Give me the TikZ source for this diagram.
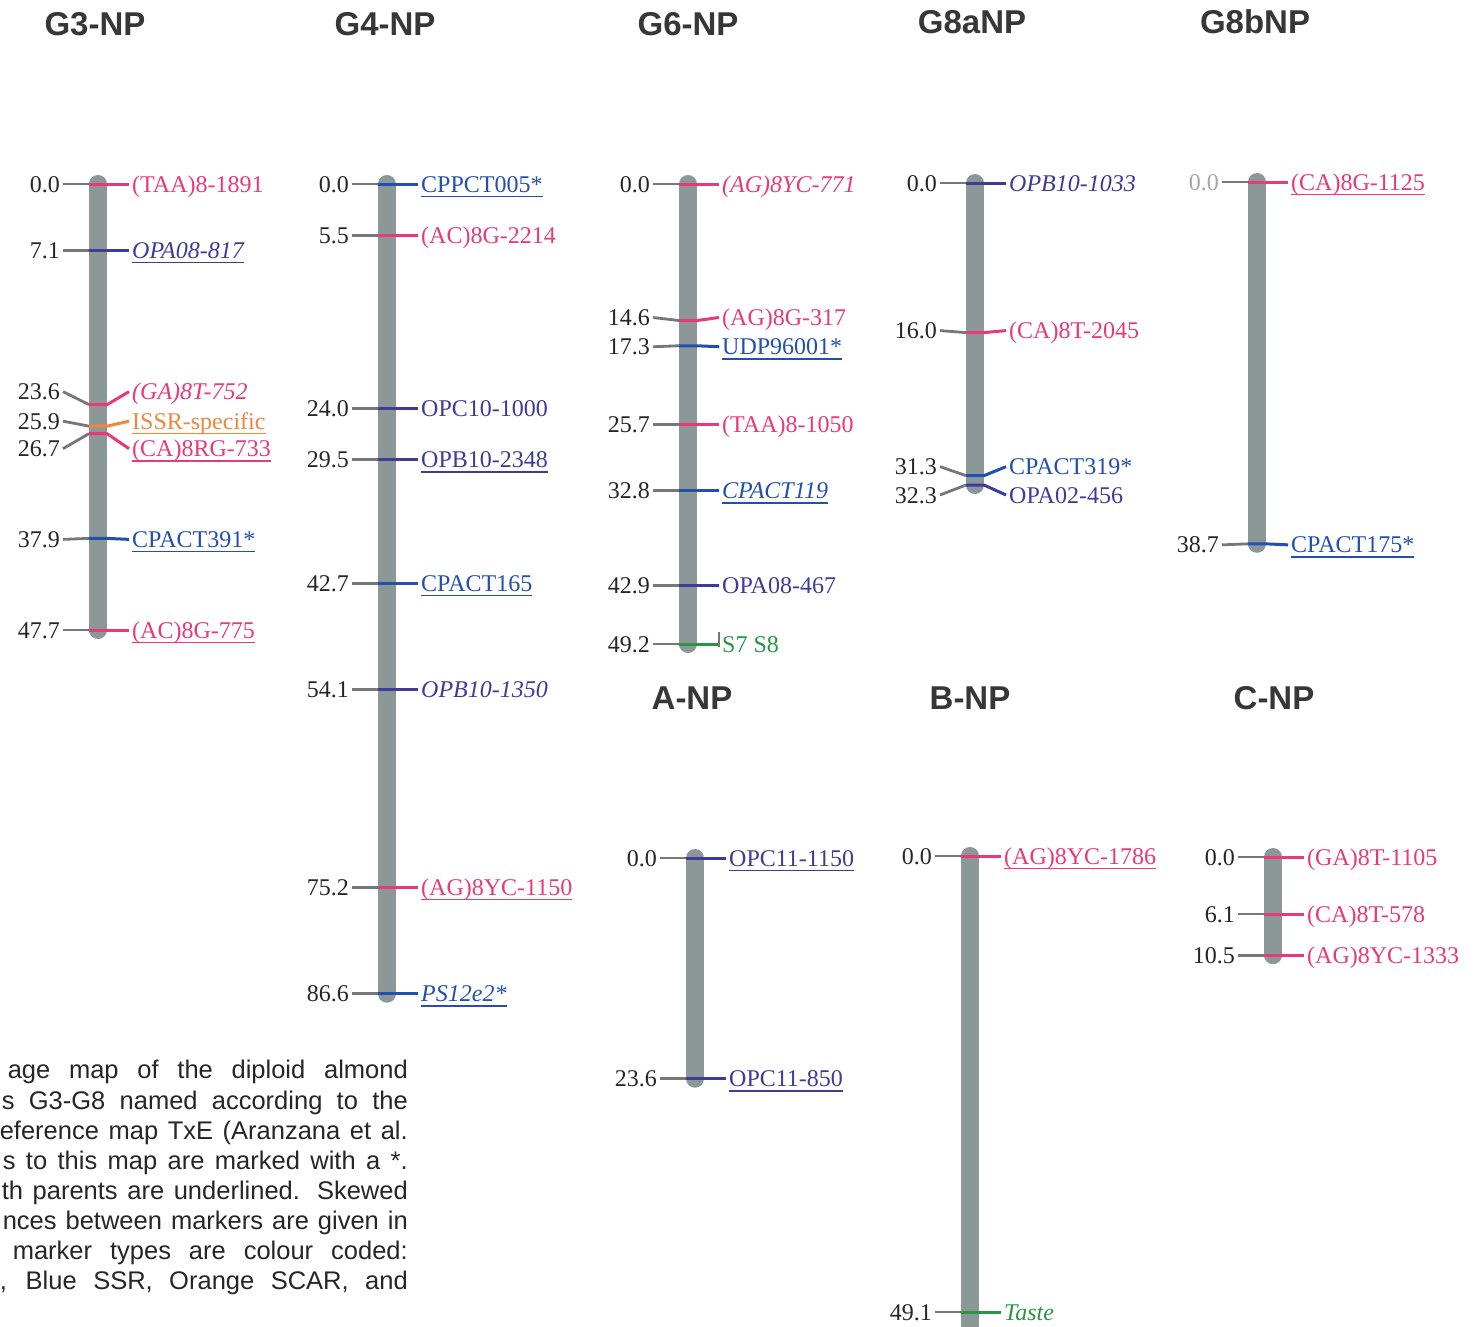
\documentclass[tikz,border=0pt]{standalone}
\usepackage{fontspec}
\setmainfont{Liberation Serif}
\newfontfamily\sansfont{Liberation Sans}
\usepackage{tikz}
\usetikzlibrary{calc}

\definecolor{barcol}{RGB}{140,152,152}
\definecolor{tickcol}{RGB}{118,120,120}
\definecolor{titlecol}{RGB}{55,55,55}
\definecolor{mpink}{RGB}{232,58,120}
\definecolor{mnavy}{RGB}{62,60,150}
\definecolor{mblue}{RGB}{35,80,175}
\definecolor{morange}{RGB}{240,135,60}
\definecolor{mgreen}{RGB}{40,150,70}

\tikzstyle{chrbar} = [draw=barcol, line width=18pt, line cap=round]
\tikzstyle{tickline} = [draw=tickcol, line width=2.8pt]
\tikzstyle{posnum} = [font=\fontsize{24}{27}\selectfont, text=black!85, text height=16pt, text depth=0pt, inner sep=3pt, anchor=east]
\tikzstyle{mname} = [font=\fontsize{24}{27}\selectfont, text height=16pt, text depth=0pt, inner sep=3pt, anchor=west]
\tikzstyle{lgtitle} = [font=\sansfont\bfseries\fontsize{33}{36}\selectfont, text=titlecol]
\tikzstyle{captxt} = [font=\sansfont\fontsize{25.5}{30}\selectfont, text=black!85, anchor=base east, inner sep=0pt]

\newsavebox\ulbox
\newcommand{\mkul}[1]{\sbox\ulbox{#1}\rlap{\rule[-5pt]{\wd\ulbox}{1.5pt}}\usebox\ulbox}

% marker: id, bar x, y of 0.0, cM, label shift, colour, number, name
\newcommand{\mapmark}[8]{%
  \pgfmathsetmacro{\mym}{#3+9.35*#4}
  \pgfmathsetmacro{\myl}{\mym+#5}
  \coordinate (a#1) at (#2-9,\mym);
  \coordinate (b#1) at (#2+9,\mym);
  \node [posnum] (n#1) at (#2-35,\myl) {#7};
  \node [mname, text=#6] (l#1) at (#2+31,\myl) {#8};
  \draw [tickline] (n#1.east) -- (a#1);
  \draw [line width=3pt, draw=#6] (a#1) -- (b#1) -- (l#1.west);
}

\begin{document}
\begin{tikzpicture}[x=1pt, y=-1pt]
    \path [use as bounding box, fill=white] (0,0) rectangle (1476,1326);

    % linkage group titles
    \node [lgtitle] (tg3) at (95,24) {G3-NP};
    \node [lgtitle] (tg4) at (385,24) {G4-NP};
    \node [lgtitle] (tg6) at (688,24) {G6-NP};
    \node [lgtitle] (tg8a) at (972,22) {G8aNP};
    \node [lgtitle] (tg8b) at (1255,22) {G8bNP};
    \node [lgtitle] (ta) at (692,698) {A-NP};
    \node [lgtitle] (tb) at (970,698) {B-NP};
    \node [lgtitle] (tc) at (1274,698) {C-NP};

    % chromosome bars
    \coordinate (g3top) at (98,184);   \coordinate (g3bot) at (98,630);
    \coordinate (g4top) at (387,184);  \coordinate (g4bot) at (387,993.7);
    \coordinate (g6top) at (688,184);  \coordinate (g6bot) at (688,644);
    \coordinate (g8atop) at (975,183); \coordinate (g8abot) at (975,485);
    \coordinate (g8btop) at (1257,182); \coordinate (g8bbot) at (1257,543.8);
    \coordinate (atop) at (695,858);   \coordinate (abot) at (695,1078.7);
    \coordinate (btop) at (970,856);   \coordinate (bbot) at (970,1312);
    \coordinate (ctop) at (1273,857);  \coordinate (cbot) at (1273,955.2);
    \draw [chrbar] (g3top) -- (g3bot);
    \draw [chrbar] (g4top) -- (g4bot);
    \draw [chrbar] (g6top) -- (g6bot);
    \draw [chrbar] (g8atop) -- (g8abot);
    \draw [chrbar] (g8btop) -- (g8bbot);
    \draw [chrbar] (atop) -- (abot);
    \draw [chrbar] (btop) -- ($(bbot)+(0,20)$);
    \draw [chrbar] (ctop) -- (cbot);

    % G3-NP
    \mapmark{g3a}{98}{184}{0}{0}{mpink}{0.0}{(TAA)8-1891}
    \mapmark{g3b}{98}{184}{7.1}{0}{mnavy}{7.1}{\mkul{\itshape OPA08-817}}
    \mapmark{g3c}{98}{184}{23.6}{-13}{mpink}{23.6}{\itshape (GA)8T-752}
    \mapmark{g3d}{98}{184}{25.9}{-5}{morange}{25.9}{\mkul{ISSR-specific}}
    \mapmark{g3e}{98}{184}{26.7}{15}{mpink}{26.7}{\mkul{(CA)8RG-733}}
    \mapmark{g3f}{98}{184}{37.9}{1}{mblue}{37.9}{\mkul{CPACT391*}}
    \mapmark{g3g}{98}{184}{47.7}{0}{mpink}{47.7}{\mkul{(AC)8G-775}}

    % G4-NP
    \mapmark{g4a}{387}{184}{0}{0}{mblue}{0.0}{\mkul{CPPCT005*}}
    \mapmark{g4b}{387}{184}{5.5}{0}{mpink}{5.5}{(AC)8G-2214}
    \mapmark{g4c}{387}{184}{24.0}{0}{mnavy}{24.0}{OPC10-1000}
    \mapmark{g4d}{387}{184}{29.5}{0}{mnavy}{29.5}{\mkul{OPB10-2348}}
    \mapmark{g4e}{387}{184}{42.7}{0}{mblue}{42.7}{\mkul{CPACT165}}
    \mapmark{g4f}{387}{184}{54.1}{0}{mnavy}{54.1}{\itshape OPB10-1350}
    \mapmark{g4g}{387}{184}{75.2}{0}{mpink}{75.2}{\mkul{(AG)8YC-1150}}
    \mapmark{g4h}{387}{184}{86.6}{0}{mblue}{86.6}{\mkul{\itshape PS12e2*}}

    % G6-NP
    \mapmark{g6a}{688}{184}{0}{0}{mpink}{0.0}{\itshape (AG)8YC-771}
    \mapmark{g6b}{688}{184}{14.6}{-3}{mpink}{14.6}{(AG)8G-317}
    \mapmark{g6c}{688}{184}{17.3}{1}{mblue}{17.3}{\mkul{UDP96001*}}
    \mapmark{g6d}{688}{184}{25.7}{0}{mpink}{25.7}{(TAA)8-1050}
    \mapmark{g6e}{688}{184}{32.8}{0}{mblue}{32.8}{\mkul{\itshape CPACT119}}
    \mapmark{g6f}{688}{184}{42.9}{0}{mnavy}{42.9}{OPA08-467}
    \mapmark{g6g}{688}{184}{49.2}{0}{mgreen}{49.2}{S7 S8}
    \draw [tickline, line width=1.5pt] ($(lg6g.west)+(0,-12)$) -- ($(lg6g.west)+(0,3)$);

    % G8aNP
    \mapmark{g8aa}{975}{183}{0}{0}{mnavy}{0.0}{\itshape OPB10-1033}
    \mapmark{g8ab}{975}{183}{16.0}{-2}{mpink}{16.0}{(CA)8T-2045}
    \mapmark{g8ac}{975}{183}{31.3}{-9}{mblue}{31.3}{CPACT319*}
    \mapmark{g8ad}{975}{183}{32.3}{10}{mnavy}{32.3}{OPA02-456}

    % G8bNP
    \mapmark{g8ba}{1257}{182}{0}{0}{mpink}{{\color{black!35}0.0}}{\mkul{(CA)8G-1125}}
    \mapmark{g8bb}{1257}{182}{38.7}{1}{mblue}{38.7}{\mkul{CPACT175*}}

    % A-NP, B-NP, C-NP
    \mapmark{aa}{695}{858}{0}{0}{mnavy}{0.0}{\mkul{OPC11-1150}}
    \mapmark{ab}{695}{858}{23.6}{0}{mnavy}{23.6}{\mkul{OPC11-850}}
    \mapmark{ba}{970}{856}{0}{0}{mpink}{0.0}{\mkul{(AG)8YC-1786}}
    \mapmark{bb}{970}{856}{48.77}{0}{mgreen}{49.1}{\itshape Taste}
    \mapmark{ca}{1273}{857}{0}{0}{mpink}{0.0}{(GA)8T-1105}
    \mapmark{cb}{1273}{857}{6.1}{0}{mpink}{6.1}{(CA)8T-578}
    \mapmark{cc}{1273}{857}{10.5}{0}{mpink}{10.5}{(AG)8YC-1333}

    % caption, cut at the left edge
    \node [captxt] (cap1) at (408,1078) {\makebox[400pt][s]{age map of the diploid almond}};
    \node [captxt] (cap2) at (408,1109) {\makebox[406pt][s]{s G3-G8 named according to the}};
    \node [captxt] (cap3) at (408,1139) {\makebox[408pt][s]{eference map TxE (Aranzana et al.}};
    \node [captxt] (cap4) at (408,1169) {\makebox[405pt][s]{s to this map are marked with a *.}};
    \node [captxt] (cap5) at (408,1199) {\makebox[406pt][s]{th parents are underlined. Skewed}};
    \node [captxt] (cap6) at (408,1229) {\makebox[405pt][s]{nces between markers are given in}};
    \node [captxt] (cap7) at (408,1259) {\makebox[395pt][s]{marker types are colour coded:}};
    \node [captxt] (cap8) at (408,1289) {\makebox[408pt][s]{, Blue SSR, Orange SCAR, and}};
\end{tikzpicture}
\end{document}
